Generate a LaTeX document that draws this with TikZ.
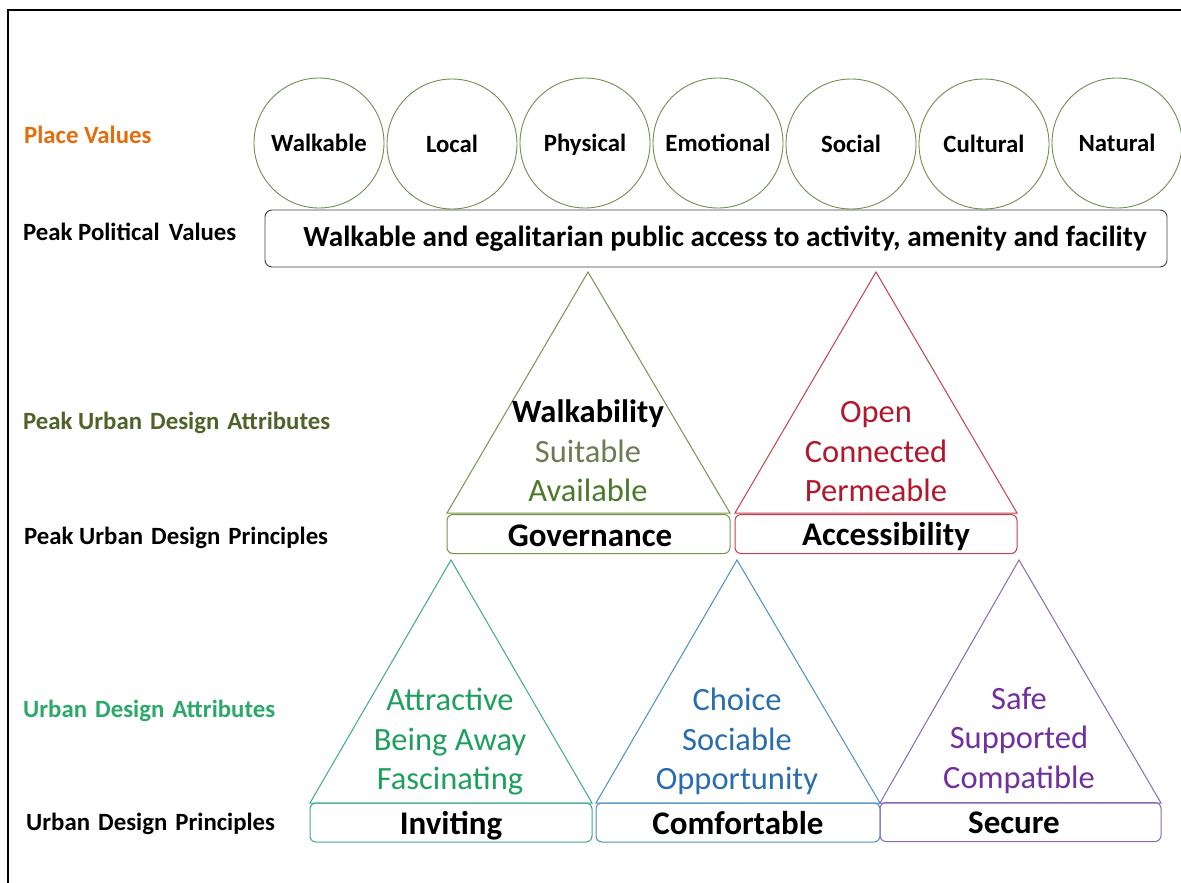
\documentclass[tikz,border=0pt]{standalone}
\usepackage{fontspec}
\setmainfont{Carlito}
\definecolor{pvorange}{HTML}{E46C0A}
\definecolor{olivedark}{HTML}{4F6228}
\definecolor{oliveline}{HTML}{77934A}
\definecolor{suitcol}{HTML}{6E7C52}
\definecolor{availcol}{HTML}{4A7A2A}
\definecolor{redtxt}{HTML}{B2172B}
\definecolor{redline}{HTML}{C0414F}
\definecolor{greentxt}{HTML}{1F9F5E}
\definecolor{greenlabel}{HTML}{2BA86A}
\definecolor{greenline}{HTML}{3DAA84}
\definecolor{bluetxt}{HTML}{2A6DAE}
\definecolor{blueline}{HTML}{4A8FC4}
\definecolor{purpletxt}{HTML}{7030A0}
\definecolor{purpleline}{HTML}{8A68B0}
\definecolor{circline}{HTML}{6E8F50}
\tikzset{
  rowlabel/.style={anchor=base west, inner sep=0pt, font=\fontsize{24.8}{28}\selectfont\bfseries},
  valcircle/.style={circle, draw=circline, line width=0.9pt, minimum size=130pt, inner sep=0pt,
     font=\fontsize{24.8}{28}\selectfont\bfseries, text height=16pt, text depth=0pt},
  headbox/.style={rectangle, rounded corners=7pt, draw=black!75, line width=0.9pt, minimum width=902pt, minimum height=57pt, inner sep=0pt},
  prinbox/.style={rectangle, rounded corners=6pt, line width=1pt, inner sep=0pt, minimum height=39pt},
  tri/.style={line width=1pt},
  attr/.style={anchor=base, inner sep=0pt, font=\fontsize{32.5}{36}\selectfont},
  prin/.style={anchor=base, inner sep=0pt, font=\fontsize{33}{36}\selectfont\bfseries},
}
\begin{document}
\begin{tikzpicture}[x=1pt,y=-1pt]
\useasboundingbox (0,0) rectangle (1181,883);
% frame
\coordinate (fbl) at (8,883);
\coordinate (ftl) at (8,10);
\coordinate (ftr) at (1181,10);
\draw[line width=1.8pt] (fbl) -- (ftl) -- (ftr);

% row labels
\node[rowlabel, text=pvorange] (l1) at (24,143) {Place Values};
\node[rowlabel] (l2) at (23,240) {Peak Political\hspace{0.15em} Values};
\node[rowlabel, text=olivedark] (l3) at (23,429) {Peak Urban\hspace{0.1em} Design\hspace{0.1em} Attributes};
\node[rowlabel] (l4) at (24,544) {Peak Urban\hspace{0.1em} Design\hspace{0.1em} Principles};
\node[rowlabel, text=greenlabel] (l5) at (23,717) {Urban\hspace{0.1em} Design\hspace{0.1em} Attributes};
\node[rowlabel] (l6) at (26,830) {Urban\hspace{0.1em} Design\hspace{0.1em} Principles};

% place value circles
\node[valcircle] (c1) at (319,143) {Walkable};
\node[valcircle] (c2) at (452,144) {Local};
\node[valcircle] (c3) at (585,143) {Physical};
\node[valcircle] (c4) at (718,143) {Emotional};
\node[valcircle] (c5) at (851,144) {Social};
\node[valcircle] (c6) at (984,144) {Cultural};
\node[valcircle] (c7) at (1117,143) {Natural};

% peak political values box
\node[headbox] (hb) at (716,238.5) {};
\node[anchor=base, inner sep=0pt, font=\fontsize{29.2}{32}\selectfont\bfseries] (ht) at (725,246.5) {Walkable and egalitarian public access to activity, amenity and facility};

% peak triangles
\coordinate (gA) at (588,272); \coordinate (gL) at (447,513); \coordinate (gR) at (730,513);
\draw[tri, draw=oliveline] (gA) -- (gL) -- (gR) -- cycle;
\coordinate (aA) at (876,272); \coordinate (aL) at (735,513); \coordinate (aR) at (1017,513);
\draw[tri, draw=redline] (aA) -- (aL) -- (aR) -- cycle;
\node[prinbox, draw=oliveline, minimum width=283pt] (gbox) at (588.5,534) {};
\node[prinbox, draw=redline, minimum width=282pt] (abox) at (876,534) {};
\node[prin] (gt) at (590,546) {Governance};
\node[prin] (at) at (886,545) {Accessibility};
\node[attr, font=\fontsize{32.5}{36}\selectfont\bfseries] (g1) at (588,422) {Walkability};
\node[attr, text=suitcol] (g2) at (588,462) {Suitable};
\node[attr, text=availcol] (g3) at (588,501) {Available};
\node[attr, text=redtxt] (a1) at (876,422) {Open};
\node[attr, text=redtxt] (a2) at (876,462) {Connected};
\node[attr, text=redtxt] (a3) at (876,501) {Permeable};

% lower triangles
\coordinate (iA) at (451,560); \coordinate (iL) at (310,803); \coordinate (iR) at (592,803);
\draw[tri, draw=greenline] (iA) -- (iL) -- (iR) -- cycle;
\coordinate (cA) at (737,560); \coordinate (cL) at (596,803); \coordinate (cR) at (880,803);
\draw[tri, draw=blueline] (cA) -- (cL) -- (cR) -- cycle;
\coordinate (sA) at (1019,560); \coordinate (sL) at (880,803); \coordinate (sR) at (1161,803);
\draw[tri, draw=purpleline] (sA) -- (sL) -- (sR) -- cycle;
\node[prinbox, draw=greenline, minimum width=282pt] (ibox) at (451,822.5) {};
\node[prinbox, draw=blueline, minimum width=284pt] (cbox) at (738,822.5) {};
\node[prinbox, draw=purpleline, minimum width=281pt] (sbox) at (1020.5,822) {};
\node[prin] (it) at (451,834) {Inviting};
\node[prin] (ct) at (738,834) {Comfortable};
\node[prin] (st) at (1014,833) {Secure};
\node[attr, text=greentxt] (i1) at (450,710) {Attractive};
\node[attr, text=greentxt] (i2) at (450,750) {Being Away};
\node[attr, text=greentxt] (i3) at (450,789) {Fascinating};
\node[attr, text=bluetxt] (k1) at (737,710) {Choice};
\node[attr, text=bluetxt] (k2) at (737,750) {Sociable};
\node[attr, text=bluetxt] (k3) at (737,789) {Opportunity};
\node[attr, text=purpletxt] (s1) at (1019,709) {Safe};
\node[attr, text=purpletxt] (s2) at (1019,748) {Supported};
\node[attr, text=purpletxt] (s3) at (1019,788) {Compatible};
\end{tikzpicture}
\end{document}
